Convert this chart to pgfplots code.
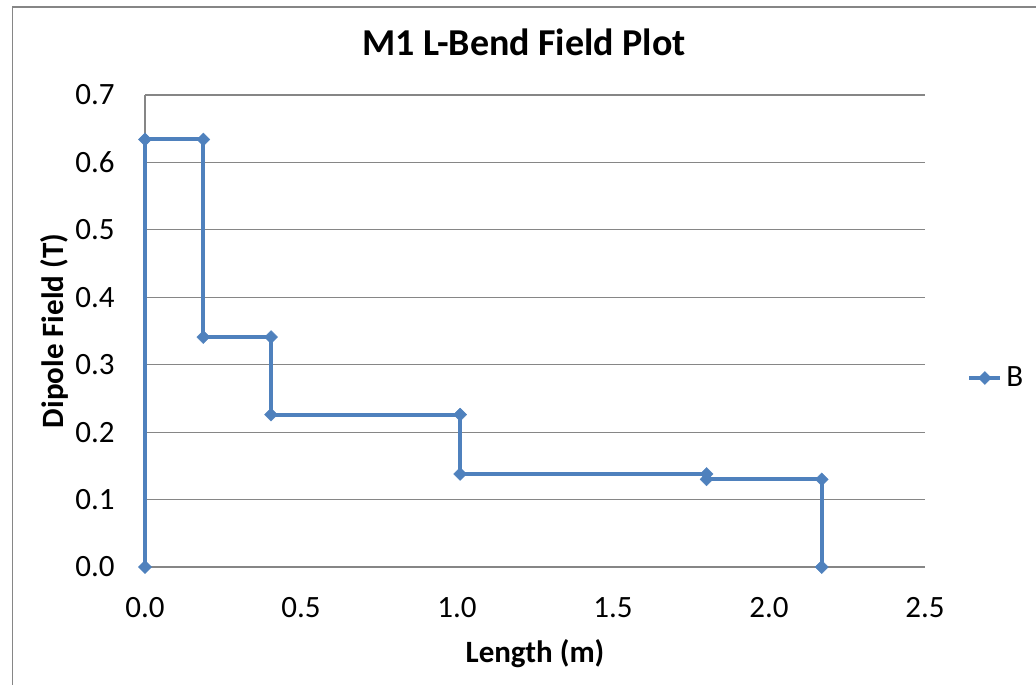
\documentclass[border=0pt]{standalone}
\usepackage{fontspec}
\setmainfont{Carlito}
\usepackage{pgfplots}
\pgfplotsset{compat=1.18}
\definecolor{excelblue}{HTML}{4F81BD}
\definecolor{gridgray}{HTML}{868686}
\begin{document}
\begin{tikzpicture}
\useasboundingbox (0,0) rectangle (518pt,342pt);
\draw[gridgray, line width=0.6pt] (6.25pt,-2pt) -- (6.25pt,338.5pt) -- (520pt,338.5pt);
\begin{axis}[
  at={(72.5pt,58.5pt)}, anchor=south west,
  scale only axis, width=390pt, height=236pt,
  xmin=0, xmax=2.5, ymin=0, ymax=0.7,
  xtick={0,0.5,...,2.5}, ytick={0,0.1,...,0.7},
  axis lines*=left,
  axis line style={gridgray, line width=0.6pt, -},
  major tick length=0pt,
  ymajorgrids, grid style={gridgray, line width=0.6pt},
  /pgf/number format/assume math mode=true,
  /pgf/number format/.cd, fixed, fixed zerofill, precision=1, /pgfplots/.cd,
  tick label style={font=\fontsize{15.5}{18}\selectfont, inner sep=0pt},
  yticklabel style={anchor=east, xshift=-15pt},
  xticklabel style={anchor=north, yshift=-15pt},
  every axis title shift=0pt,
  title={M1 L-Bend Field Plot},
  title style={font=\bfseries\fontsize{19}{22}\selectfont, at={(axis description cs:0.486,1.0847)}, anchor=base, inner sep=0pt},
  xlabel={Length (m)},
  xlabel style={font=\bfseries\fontsize{15.5}{18}\selectfont, at={(axis description cs:0.5,-0.2013)}, anchor=base, inner sep=0pt},
  ylabel={Dipole Field (T)},
  ylabel style={font=\bfseries\fontsize{15.5}{18}\selectfont, at={(axis description cs:-0.1051,0.5)}, anchor=base, inner sep=0pt},
  legend style={draw=none, fill=none, at={(axis description cs:1.0538,0.4004)}, anchor=west, inner sep=0pt, font=\fontsize{15.5}{18}\selectfont, legend cell align=left},
  legend image code/.code={\draw[mark repeat=2, mark phase=2] plot coordinates {(0pt,0pt) (7.75pt,0pt) (15.5pt,0pt)};},
  clip=false,
]
\addplot[excelblue, line width=2pt, mark=square*, mark size=2.3pt, mark options={solid, fill=excelblue, line width=0.2pt, rotate=45}]
coordinates {
(0,0) (0,0.634) (0.187,0.634) (0.187,0.341) (0.404,0.341) (0.404,0.226)
(1.01,0.226) (1.01,0.138) (1.80,0.138) (1.80,0.130) (2.169,0.130) (2.169,0)
};
\addlegendentry{B}
\end{axis}
\end{tikzpicture}
\end{document}
